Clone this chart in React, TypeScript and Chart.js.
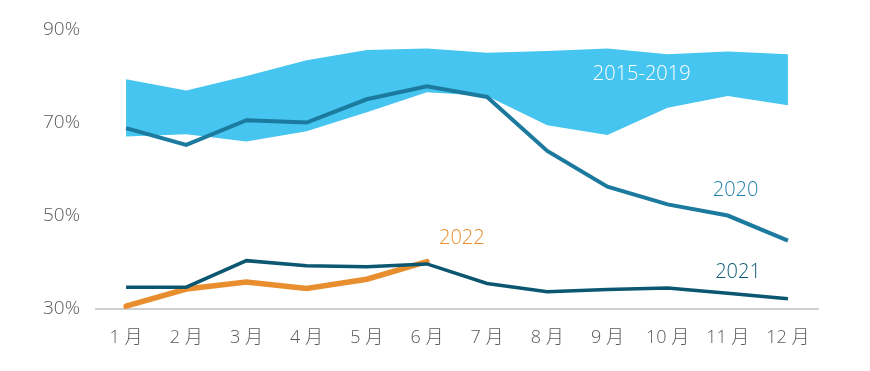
import React, { useEffect, useRef } from "react";
import { Chart, registerables } from "chart.js";

Chart.register(...registerables);

const months = ["1 月", "2 月", "3 月", "4 月", "5 月", "6 月", "7 月", "8 月", "9 月", "10 月", "11 月", "12 月"];
const bandUpper = [79.4, 77.0, 80.1, 83.5, 85.7, 86.0, 85.1, 85.5, 86.0, 84.8, 85.4, 84.8];
const bandLower = [67.1, 67.6, 66.0, 68.2, 72.3, 76.6, 75.8, 69.5, 67.4, 73.3, 75.8, 73.8];
const s2020 = [68.9, 65.3, 70.6, 70.1, 75.1, 77.9, 75.6, 64.0, 56.3, 52.5, 50.1, 44.7];
const s2021 = [34.7, 34.7, 40.4, 39.3, 39.1, 39.7, 35.5, 33.7, 34.2, 34.5, 33.4, 32.2];
const s2022 = [30.6, 34.3, 35.8, 34.4, 36.4, 40.2];
const yTicks = [30, 50, 70, 90];

// annotation labels: text, x position (category index), y value, colour
const labelTexts = ["2015-2019", "2020", "2021", "2022"];
const labelX = [8.57, 10.13, 10.17, 5.58];
const labelY = [80.5, 55.5, 37.8, 45.1];
const labelColors = ["#ffffff", "#2280a8", "#0e5a75", "#e88e2e"];

const BAND = "#45c5ef";
const C2020 = "#1b7a9e";
const C2021 = "#0b5670";
const C2022 = "#e88e2e";
const FONT = "'Open Sans', 'Noto Sans CJK SC', sans-serif";

const labelPlugin = {
  id: "seriesLabels",
  afterDatasetsDraw(chart: any) {
    const { ctx, scales } = chart;
    ctx.save();
    ctx.font = `300 20px ${FONT}`;
    ctx.textAlign = "center";
    ctx.textBaseline = "middle";
    labelTexts.forEach((t, i) => {
      ctx.fillStyle = labelColors[i];
      ctx.fillText(t, scales.x.getPixelForValue(labelX[i]), scales.y.getPixelForValue(labelY[i]));
    });
    ctx.restore();
  },
};

export default function App() {
  const ref = useRef<HTMLCanvasElement>(null);
  useEffect(() => {
    const chart = new Chart(ref.current!, {
      type: "line",
      data: {
        labels: months,
        datasets: [
          { label: "upper", data: bandUpper, borderWidth: 0, pointRadius: 0, fill: "+1", backgroundColor: BAND, borderColor: BAND, tension: 0 },
          { label: "lower", data: bandLower, borderWidth: 0, pointRadius: 0, fill: false, borderColor: BAND, tension: 0 },
          { label: "2020", data: s2020, borderWidth: 4, pointRadius: 0, borderColor: C2020, fill: false, tension: 0 },
          { label: "2021", data: s2021, borderWidth: 3.5, pointRadius: 0, borderColor: C2021, fill: false, tension: 0 },
          { label: "2022", data: s2022, borderWidth: 5.5, pointRadius: 0, borderColor: C2022, fill: false, tension: 0, borderCapStyle: "round" },
        ],
      },
      options: {
        animation: false,
        responsive: false,
        maintainAspectRatio: false,
        layout: { padding: { top: 30, right: 52, bottom: 0, left: 0 } },
        plugins: {
          legend: { display: false },
          tooltip: { enabled: false },
          filler: { drawTime: "beforeDatasetsDraw" },
        },
        scales: {
          x: {
            offset: true,
            grid: { display: false, drawTicks: false },
            border: { display: true, color: "#d0d0d0", width: 2 },
            ticks: { color: "#595959", font: { family: FONT, size: 18, weight: "300" }, padding: 18, maxRotation: 0, autoSkip: false },
            afterFit: (s: any) => { s.height = 62; },
          },
          y: {
            min: 30,
            max: 90,
            afterBuildTicks: (s: any) => { s.ticks = yTicks.map((v) => ({ value: v })); },
            grid: { display: false, drawTicks: false },
            border: { display: false },
            ticks: { color: "#595959", font: { family: FONT, size: 19, weight: "300" }, padding: 16, callback: (v: any) => `${v}%` },
            afterFit: (s: any) => { s.width = 96; },
          },
        },
      },
      plugins: [labelPlugin],
    });
    return () => chart.destroy();
  }, []);
  return (
    <div style={{ position: "fixed", left: 0, top: 0, width: 870, height: 371, background: "#fff" }}>
      <canvas ref={ref} width={870} height={371} />
    </div>
  );
}
